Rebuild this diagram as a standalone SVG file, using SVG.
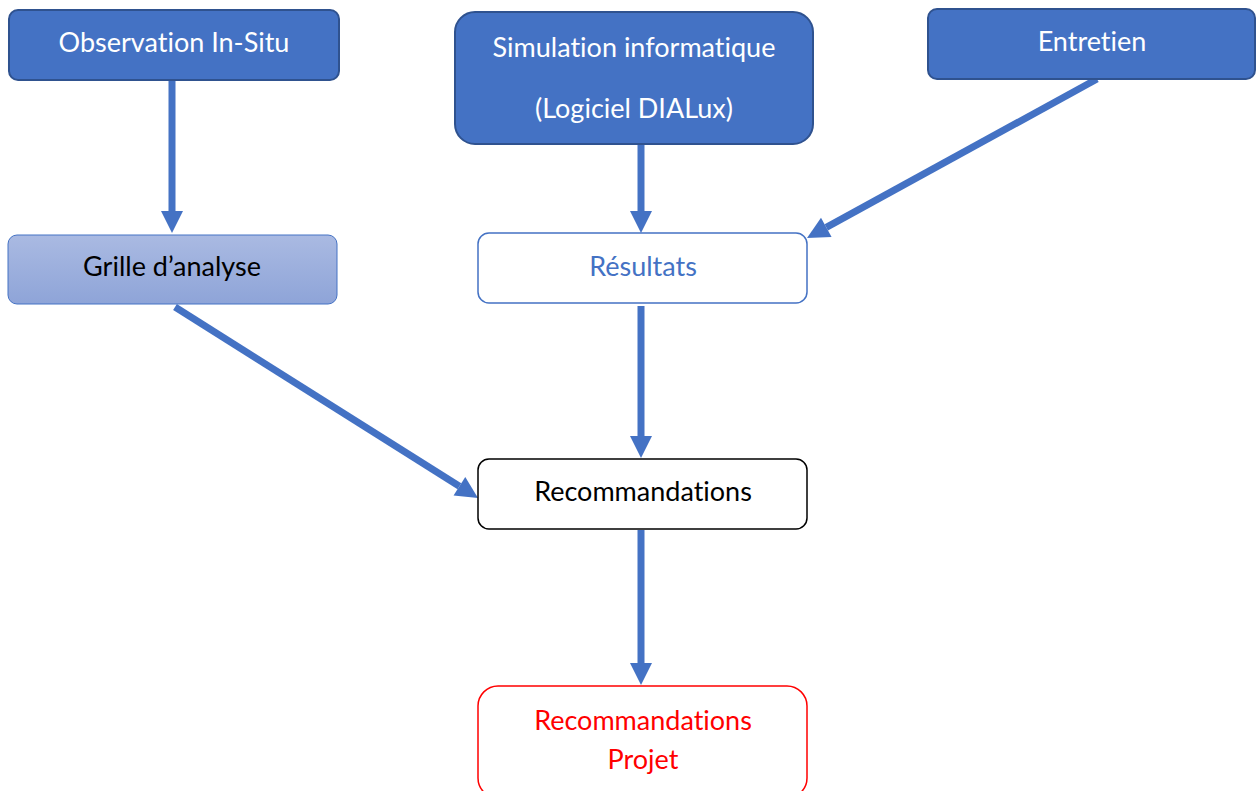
<svg xmlns="http://www.w3.org/2000/svg" width="1257" height="791" viewBox="0 0 1257 791">
  <style>
    .lbl { font-family: Lato, "Liberation Sans", sans-serif; font-size: 27px; text-anchor: middle; font-variant-ligatures: none; }
    .solid rect { fill: #4472C4; stroke: #2F528F; stroke-width: 2; }
    .solid text { fill: #FFFFFF; }
    .conn line { stroke: #4472C4; stroke-width: 7; marker-end: url(#head); }
  </style>
  <defs>
    <marker id="head" markerUnits="userSpaceOnUse" markerWidth="24" markerHeight="24" refX="0" refY="11" orient="auto" overflow="visible">
      <path d="M0,0 L22,11 L0,22 Z" fill="#4472C4"/>
    </marker>
    <linearGradient id="gridFill" x1="0" y1="0" x2="0" y2="1">
      <stop offset="0" stop-color="#AABAE2"/>
      <stop offset="1" stop-color="#8EA4D8"/>
    </linearGradient>
  </defs>

  <g id="connectors" class="conn">
    <line x1="172" y1="80" x2="172" y2="211"/>
    <line x1="641" y1="144" x2="641" y2="211"/>
    <line x1="1097" y1="79" x2="826.3" y2="227.4"/>
    <line x1="175" y1="307" x2="459.4" y2="486.3"/>
    <line x1="641" y1="306" x2="641" y2="436"/>
    <line x1="641" y1="530" x2="641" y2="663"/>
  </g>

  <g id="observation" class="solid">
    <rect x="9" y="10" width="330" height="70" rx="9"/>
    <text class="lbl" x="174" y="52">Observation In-Situ</text>
  </g>

  <g id="simulation" class="solid">
    <rect x="455" y="12" width="358" height="132" rx="20"/>
    <text class="lbl" x="634" y="57">Simulation informatique</text>
    <text class="lbl" x="634" y="118">(Logiciel DIALux)</text>
  </g>

  <g id="entretien" class="solid">
    <rect x="928" y="9" width="327" height="70" rx="9"/>
    <text class="lbl" x="1092" y="51">Entretien</text>
  </g>

  <g id="grille">
    <rect x="8" y="235" width="329" height="69" rx="9" fill="url(#gridFill)" stroke="#4472C4" stroke-width="1"/>
    <text class="lbl" x="172" y="276" fill="#000000">Grille d’analyse</text>
  </g>

  <g id="resultats">
    <rect x="478" y="233" width="329" height="70" rx="11" fill="#FFFFFF" stroke="#4472C4" stroke-width="1.5"/>
    <text class="lbl" x="643" y="276" fill="#4472C4">Résultats</text>
  </g>

  <g id="recommandations">
    <rect x="478" y="459" width="329" height="70" rx="11" fill="#FFFFFF" stroke="#000000" stroke-width="1.5"/>
    <text class="lbl" x="643" y="501" fill="#000000">Recommandations</text>
  </g>

  <g id="recommandations-projet">
    <rect x="478" y="686" width="329" height="112" rx="20" fill="#FFFFFF" stroke="#FF0000" stroke-width="1.5"/>
    <text class="lbl" x="643" y="730" fill="#FF0000">Recommandations</text>
    <text class="lbl" x="643" y="769" fill="#FF0000">Projet</text>
  </g>
</svg>
